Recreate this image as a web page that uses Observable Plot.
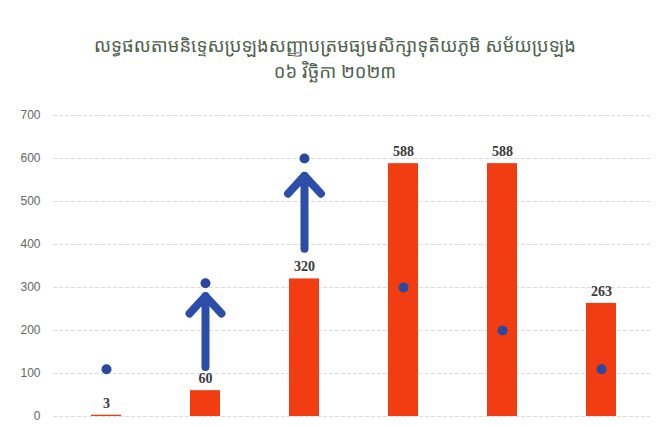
<!DOCTYPE html>
<html><head><meta charset="utf-8">
<script src="https://cdn.jsdelivr.net/npm/d3@7"></script>
<script src="https://cdn.jsdelivr.net/npm/@observablehq/plot@0.6"></script>
<style>
body{margin:0;background:#fff;width:661px;height:427px;overflow:hidden;}
#title{height:100px;box-sizing:border-box;padding-top:32px;text-align:center;color:#4f5f4f;font-family:"Noto Sans Khmer","Khmer OS","Noto Sans",sans-serif;font-size:18.4px;line-height:26px;padding-left:9px;}
</style></head>
<body>
<div id="title"><div>លទ្ធផលតាមនិទ្ទេសប្រឡងសញ្ញាបត្រមធ្យមសិក្សាទុតិយភូមិ សម័យប្រឡង</div><div>០៦ វិច្ឆិកា ២០២៣</div></div>
<div id="chart"></div>
<script>
const categories = ["A","B","C","D","E","F"];
const barValues = [3, 60, 320, 588, 588, 263];
const dotValues = [110, 310, 600, 300, 200, 110];
const arrowCats = ["B","C"];
const arrowFrom = [115, 390];
const arrowTo = [280, 560];
const yTicks = [0,100,200,300,400,500,600,700];

const bars = categories.map((c,i)=>({cat:c, value:barValues[i]}));
const dots = categories.map((c,i)=>({cat:c, value:dotValues[i]}));
const arrows = arrowCats.map((c,i)=>({cat:c, y1:arrowFrom[i], y2:arrowTo[i]}));

const chart = Plot.plot({
  width: 661, height: 327,
  marginTop: 15, marginBottom: 11, marginLeft: 56, marginRight: 11,
  style:{fontFamily:"Liberation Sans, Arial, sans-serif", background:"transparent"},
  x:{domain:categories, paddingInner:0.7, paddingOuter:0.35, axis:null},
  y:{domain:[0,700], ticks:yTicks, grid:false, label:null},
  marks:[
    Plot.ruleY(yTicks, {stroke:"#dcdcdc", strokeWidth:1, strokeDasharray:"4,2", insetLeft:-3}),
    Plot.axisY({ticks:yTicks, tickSize:0, tickPadding:16, fontSize:12, color:"#666", label:null}),
    Plot.barY(bars, {x:"cat", y:"value", fill:"#f23c12"}),
    Plot.text(bars, {x:"cat", y:"value", text:d=>String(d.value), dy:-12, fontFamily:"Liberation Serif, Times New Roman, serif", fontWeight:"bold", fontSize:14, fill:"#3a3a3a"}),
    Plot.dot(dots, {x:"cat", y:"value", r:5, fill:"#2a48a0"}),
    Plot.arrow(arrows, {x:"cat", y1:"y1", y2:"y2", stroke:"#2d4ea8", strokeWidth:8, headLength:24, headAngle:85, bend:false, strokeLinecap:"round"})
  ]
});
document.getElementById("chart").appendChild(chart);
</script>
</body></html>
